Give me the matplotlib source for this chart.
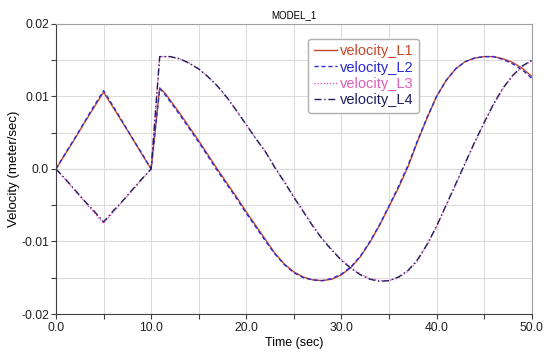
import matplotlib
matplotlib.use("Agg")
import matplotlib.pyplot as plt
from matplotlib.ticker import MultipleLocator

plt.rcParams['font.family'] = ['Liberation Sans', 'DejaVu Sans']

# Data
time = [0, 1, 2, 3, 4, 5, 6, 7, 8, 9, 10, 10.9, 11.5, 12, 13, 14, 15, 16, 17, 18, 19,
        20, 21, 22, 23, 24, 25, 26, 27, 28, 29, 30, 31, 32, 33, 34, 35, 36, 37, 38,
        39, 40, 41, 42, 43, 44, 45, 46, 47, 48, 49, 50]

vel_L1 = [0, 0.0021, 0.0042, 0.0064, 0.0085, 0.0106, 0.0085, 0.0064, 0.0043, 0.0021, 0.0,
          0.0112, 0.0104, 0.0095, 0.0077, 0.0058, 0.0039, 0.0019, -0.0001, -0.0020, -0.0039,
          -0.0059, -0.0078, -0.0097, -0.0116, -0.0131, -0.0142, -0.0149, -0.0153, -0.0154,
          -0.0152, -0.0146, -0.0136, -0.0121, -0.0101, -0.0078, -0.0052, -0.0026, 0.0003,
          0.0038, 0.0070, 0.0100, 0.0122, 0.0138, 0.0148, 0.0153, 0.0155, 0.0155, 0.0152,
          0.0147, 0.0139, 0.0128]

vel_L2 = [0, 0.0022, 0.0043, 0.0065, 0.0087, 0.0108, 0.0087, 0.0065, 0.0043, 0.0022, 0.0,
          0.0111, 0.0102, 0.0093, 0.0075, 0.0056, 0.0037, 0.0017, -0.0003, -0.0022, -0.0041,
          -0.0061, -0.0080, -0.0099, -0.0117, -0.0132, -0.0143, -0.0150, -0.0153, -0.0154,
          -0.0151, -0.0145, -0.0135, -0.0120, -0.0100, -0.0077, -0.0051, -0.0024, 0.0005,
          0.0039, 0.0071, 0.0100, 0.0122, 0.0138, 0.0148, 0.0153, 0.0155, 0.0155, 0.0151,
          0.0145, 0.0137, 0.0125]

vel_L3 = [0, -0.0015, -0.0030, -0.0045, -0.0060, -0.0075, -0.0060, -0.0045, -0.0030, -0.0015, 0.0,
          0.0155, 0.0155, 0.0155, 0.0152, 0.0146, 0.0138, 0.0127, 0.0114, 0.0098, 0.0080,
          0.0061, 0.0042, 0.0024, 0.0003, -0.0017, -0.0038, -0.0058, -0.0078, -0.0096,
          -0.0111, -0.0125, -0.0136, -0.0145, -0.0151, -0.0154, -0.0154, -0.0150, -0.0141,
          -0.0127, -0.0105, -0.0080, -0.0051, -0.0022, 0.0007, 0.0036, 0.0063, 0.0089,
          0.0111, 0.0128, 0.0141, 0.0149]

vel_L4 = [0, -0.0014, -0.0029, -0.0044, -0.0058, -0.0073, -0.0058, -0.0044, -0.0029, -0.0014, 0.0,
          0.0155, 0.0155, 0.0155, 0.0152, 0.0146, 0.0138, 0.0127, 0.0114, 0.0098, 0.0080,
          0.0061, 0.0042, 0.0024, 0.0002, -0.0018, -0.0039, -0.0059, -0.0079, -0.0097,
          -0.0112, -0.0126, -0.0137, -0.0146, -0.0152, -0.0155, -0.0154, -0.0149, -0.0140,
          -0.0125, -0.0104, -0.0079, -0.0050, -0.0021, 0.0008, 0.0037, 0.0064, 0.0090,
          0.0112, 0.0129, 0.0142, 0.0150]

labels = ["velocity_L1", "velocity_L2", "velocity_L3", "velocity_L4"]
colors = ["#c44a2a", "#2a2ad8", "#e060b8", "#202060"]

fig = plt.figure(figsize=(5.5, 3.58), dpi=100)
ax = fig.add_axes([0.1018, 0.1229, 0.8649, 0.8101])

ax.plot(time, vel_L1, color=colors[0], lw=1.0, ls='-', label=labels[0])
ax.plot(time, vel_L2, color=colors[1], lw=1.0, ls=(0, (3, 2)), label=labels[1])
ax.plot(time, vel_L3, color=colors[2], lw=1.0, ls=(0, (1, 1.2)), label=labels[2])
ax.plot(time, vel_L4, color=colors[3], lw=1.0, ls=(0, (5, 2, 1, 2)), label=labels[3])

ax.set_xlim(0, 50)
ax.set_ylim(-0.02, 0.02)
ax.xaxis.set_major_locator(MultipleLocator(10))
ax.xaxis.set_minor_locator(MultipleLocator(5))
ax.yaxis.set_major_locator(MultipleLocator(0.01))
ax.yaxis.set_minor_locator(MultipleLocator(0.005))
ax.set_xticklabels([f"{v:.1f}" for v in ax.get_xticks()])
ax.set_yticks([-0.02, -0.01, 0.0, 0.01, 0.02])
ax.set_yticklabels(["-0.02", "-0.01", "0.0", "0.01", "0.02"])

ax.grid(True, which='both', color='#dcdcdc', lw=0.8)
ax.axhline(0, color='#a8a8a8', lw=0.8, zorder=0.5)
ax.set_axisbelow(True)

ax.tick_params(which='both', direction='out', length=3.5, width=0.8, color='#404040',
               labelsize=8.8, labelcolor='#202020')
ax.tick_params(axis='y', pad=1.5)
ax.tick_params(axis='x', pad=2.5)
for s in ['left', 'bottom']:
    ax.spines[s].set_color('#404040')
for s in ['top', 'right']:
    ax.spines[s].set_color('#a0a0a0')

ax.set_title("MODEL_1", fontsize=7, pad=4)
ax.set_xlabel("Time (sec)", fontsize=9, labelpad=2)
ax.set_ylabel("Velocity (meter/sec)", fontsize=9.5, labelpad=0.5)

leg = ax.legend(loc='upper left', bbox_to_anchor=(0.515, 0.975), fontsize=10.5,
                handlelength=1.6, handletextpad=0.15, labelspacing=0.15,
                borderpad=0.4, fancybox=True, framealpha=1, edgecolor='#b0b0b0')
for txt, c in zip(leg.get_texts(), colors):
    txt.set_color(c)

fig.savefig("out.png", dpi=100)
